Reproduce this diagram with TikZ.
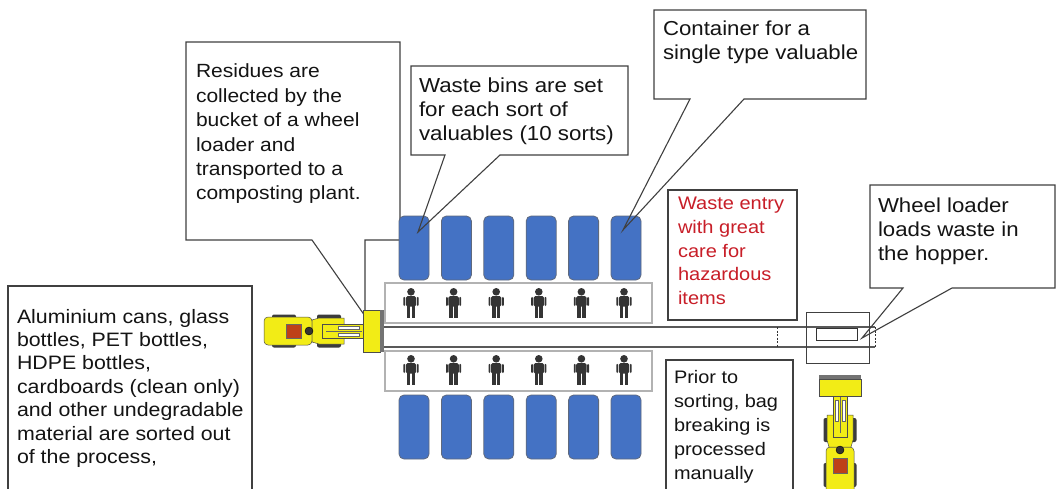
\documentclass[tikz,border=0pt]{standalone}
\usepackage{fontspec}
\setmainfont{Liberation Sans}[FakeStretch=1.1]
\usetikzlibrary{calc}

\definecolor{binblue}{RGB}{68,114,196}
\definecolor{binedge}{RGB}{95,105,125}
\definecolor{alertred}{RGB}{200,30,40}
\definecolor{loaderyellow}{RGB}{242,236,22}
\definecolor{enginered}{RGB}{190,64,24}
\definecolor{personc}{RGB}{52,52,52}
\definecolor{tirec}{RGB}{60,60,60}

\tikzset{
  frame/.style={draw=none, inner sep=0pt, outer sep=0pt, anchor=north west},
  boxline/.style={draw=black!75, line width=1.1pt, line join=miter},
  txt/.style={anchor=north west, inner sep=0pt, outer sep=0pt, align=left, text=black!92},
  bin/.style={draw=binedge, fill=binblue, rounded corners=5pt, line width=0.8pt,
              minimum width=30pt, minimum height=64pt, inner sep=0pt, outer sep=0pt, anchor=north west},
  strip/.style={draw=black!30, line width=1.2pt, inner sep=0pt, outer sep=0pt, anchor=north west,
                minimum width=267pt, minimum height=40pt},
  belt/.style={draw=black!65, line width=1.1pt},
  beltend/.style={draw=black!80, line width=0.9pt, dash pattern=on 2pt off 1.5pt},
  body/.style={fill=loaderyellow, draw=black!70, line width=0.5pt},
  worker/.pic={
    \fill[personc] (0,3.8) circle (3.8pt);
    \fill[personc, rounded corners=1.5pt] (-5.2,8.2) rectangle (5.2,18.5);
    \fill[personc, rounded corners=1pt] (-7.6,8.8) rectangle (-5.8,18);
    \fill[personc, rounded corners=1pt] (5.8,8.8) rectangle (7.6,18);
    \fill[personc] (-4.2,17) rectangle (-0.6,30);
    \fill[personc] (0.6,17) rectangle (4.2,30);
  }
}

% top view of a wheel loader, rear at the origin, bucket towards +x
\newcommand\loaderbody{%
  % rear tyres
  \fill[tirec, rounded corners=2pt] (8,-16.5) rectangle (32,16.5);
  % rear body and engine cover
  \filldraw[body, rounded corners=4pt] (0,-14) rectangle (48,14);
  \filldraw[fill=enginered, draw=black!60, line width=0.4pt] (22,-7) rectangle (37,7);
  % front tyres
  \fill[tirec, rounded corners=2pt] (53,-16.5) rectangle (77,16.5);
  % front frame
  \filldraw[body] (48,-11) -- (55,-13) -- (80,-13) -- (80,13) -- (55,13) -- (48,11) -- cycle;
  % articulation joint
  \filldraw[fill=black!80, draw=black, line width=0.4pt] (45,0) circle (4pt);
  % lift arms
  \filldraw[body] (58,-7) rectangle (100,7);
  \filldraw[fill=white, draw=black!60, line width=0.4pt] (74,-5) rectangle (95,-2);
  \filldraw[fill=white, draw=black!60, line width=0.4pt] (74,2) rectangle (95,5);
  \draw[black!60, line width=0.5pt] (62,0) -- (98,0);
  % bucket
  \filldraw[body] (99,-21) rectangle (116,21);
  \fill[black!55] (116,-21) rectangle (120,21);
}

\begin{document}
\begin{tikzpicture}[x=1pt,y=-1pt]
\clip (0,0) rectangle (1057,488);
\fill[white] (0,0) rectangle (1057,488);

% ---- side note on sorted-out material
\node[frame, minimum width=244pt, minimum height=220pt] (albox) at (8,286) {};
\draw[boxline] (albox.south west) rectangle (albox.north east);
\node[txt, font=\fontsize{19.4}{23.4}\selectfont] (altext) at ($(albox.north west)+(9,23)$)
  {Aluminium cans, glass\\bottles, PET bottles,\\HDPE bottles,\\cardboards (clean only)\\and other undegradable\\material are sorted out\\of the process,};

% ---- residues callout
\node[frame, minimum width=214pt, minimum height=198pt] (resbox) at (186,42) {};
\coordinate (restip) at (365,316);
\draw[boxline] (resbox.north west) -- (resbox.north east) -- (resbox.south east)
  -- ($(resbox.south east)+(-35,0)$) -- (restip) -- ($(resbox.south west)+(126,0)$)
  -- (resbox.south west) -- cycle;
\node[txt, font=\fontsize{19.1}{24.4}\selectfont] (restext) at ($(resbox.north west)+(10,22)$)
  {Residues are\\collected by the\\bucket of a wheel\\loader and\\transported to a\\composting plant.};

% ---- sorting line: worker strips and belt
\node[strip] (stripT) at (385,283) {};
\node[strip] (stripB) at (385,351) {};
\coordinate (beltTL) at (383,327);
\coordinate (beltTR) at (875,327);
\coordinate (beltBL) at (383,347);
\coordinate (beltBR) at (875,347);
\coordinate (beltMT) at (777,327);
\coordinate (beltMB) at (777,347);
\draw[belt] (beltTL) -- (beltTR);
\draw[belt] (beltBL) -- (beltBR);
\draw[beltend] (beltMT) -- (beltMB);
\draw[beltend] (beltTR) -- (beltBR);

% ---- waste bins
\foreach \i in {0,...,5}{
  \node[bin] (tb\i) at ({399+42.4*\i},216) {};
  \node[bin] (bb\i) at ({399+42.4*\i},395) {};
}

% ---- sorting workers
\foreach \i in {0,...,5}{
  \pic at ({411+42.6*\i},288) {worker};
  \pic at ({411+42.6*\i},355) {worker};
}

% ---- wheel loaders
\begin{scope}[shift={(264,331)}]
  \loaderbody
\end{scope}
\begin{scope}[shift={(840,495)}, rotate=90]
  \loaderbody
\end{scope}

% ---- hopper
\node[frame, minimum width=63pt, minimum height=51pt] (hopper) at (806,312) {};
\draw[draw=black!75, line width=1pt] (hopper.south west) rectangle (hopper.north east);
\node[frame, minimum width=41pt, minimum height=12pt] (hopin) at (816,328) {};
\draw[draw=black!80, line width=1pt] (hopin.south west) rectangle (hopin.north east);

% ---- bins callout
\node[frame, minimum width=217pt, minimum height=89pt] (binbox) at (411,66) {};
\coordinate (bintip) at (418,232);
\draw[boxline] (binbox.north west) -- (binbox.north east) -- (binbox.south east)
  -- ($(binbox.south west)+(89,0)$) -- (bintip) -- ($(binbox.south west)+(34,0)$)
  -- (binbox.south west) -- cycle;
\node[txt, font=\fontsize{20.3}{24}\selectfont] (bintext) at ($(binbox.north west)+(8,12)$)
  {Waste bins are set\\for each sort of\\valuables (10 sorts)};

% ---- container callout
\node[frame, minimum width=212pt, minimum height=89pt] (conbox) at (654,10) {};
\coordinate (contip) at (623,230);
\draw[boxline] (conbox.north west) -- (conbox.north east) -- (conbox.south east)
  -- ($(conbox.south west)+(90,0)$) -- (contip) -- ($(conbox.south west)+(36,0)$)
  -- (conbox.south west) -- cycle;
\node[txt, font=\fontsize{20.2}{24}\selectfont] (context) at ($(conbox.north west)+(9,11)$)
  {Container for a\\single type valuable};

% ---- hopper loading callout
\node[frame, minimum width=185pt, minimum height=103pt] (hopbox) at (870,185) {};
\coordinate (hoptip) at (862,338);
\draw[boxline] (hopbox.north west) -- (hopbox.north east) -- (hopbox.south east)
  -- ($(hopbox.south west)+(82,0)$) -- (hoptip) -- ($(hopbox.south west)+(33,0)$)
  -- (hopbox.south west) -- cycle;
\node[txt, font=\fontsize{20.2}{24}\selectfont] (hoptext) at ($(hopbox.north west)+(8,13)$)
  {Wheel loader\\loads waste in\\the hopper.};

% ---- waste entry note
\node[frame, minimum width=129pt, minimum height=130pt] (entbox) at (668,190) {};
\draw[boxline] (entbox.south west) rectangle (entbox.north east);
\node[txt, text=alertred, font=\fontsize{18.2}{23.8}\selectfont] (enttext) at ($(entbox.north west)+(10,7)$)
  {Waste entry\\with great\\care for\\hazardous\\items};

% ---- bag breaking note
\node[frame, minimum width=127pt, minimum height=140pt] (bagbox) at (666,360) {};
\draw[boxline] (bagbox.south west) rectangle (bagbox.north east);
\node[txt, font=\fontsize{18.1}{24}\selectfont] (bagtext) at ($(bagbox.north west)+(8,10)$)
  {Prior to\\sorting, bag\\breaking is\\processed\\manually};

\end{tikzpicture}
\end{document}
